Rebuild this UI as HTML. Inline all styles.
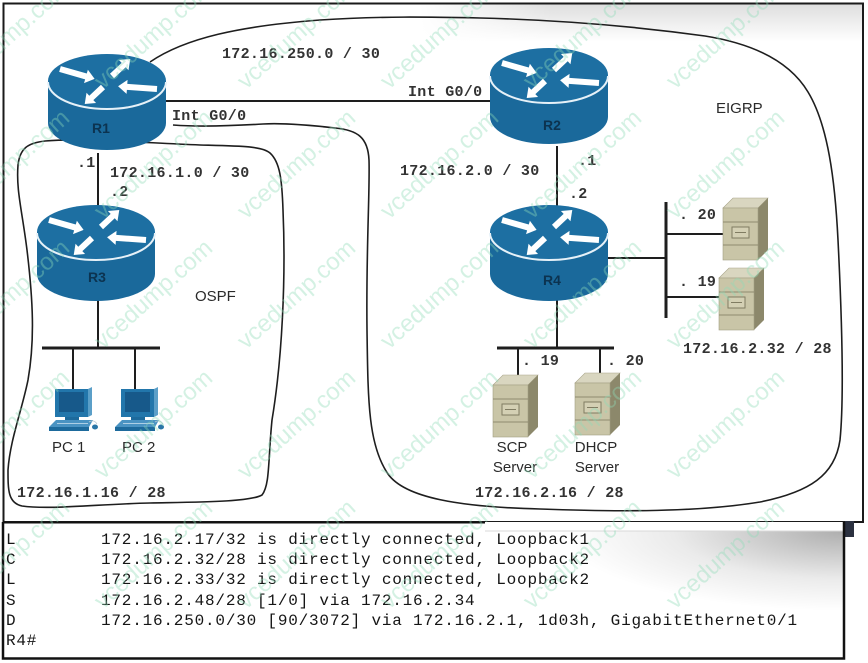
<!DOCTYPE html>
<html>
<head>
<meta charset="utf-8">
<style>
  html,body{margin:0;padding:0;background:#fff;}
  body{width:868px;height:663px;overflow:hidden;position:relative;}
  svg{position:absolute;left:0;top:0;}
  .m{font-family:"Liberation Mono","DejaVu Sans Mono",monospace;font-size:15px;font-weight:bold;fill:#333;letter-spacing:0.3px;}
  .s{font-family:"Liberation Sans","DejaVu Sans",sans-serif;font-size:15px;fill:#2a2a2a;}
  .r{font-family:"Liberation Sans","DejaVu Sans",sans-serif;font-size:14px;font-weight:bold;fill:#0c3350;}
  .c{font-family:"Liberation Mono","DejaVu Sans Mono",monospace;font-size:16px;fill:#151515;letter-spacing:0.8px;}
  .w{font-family:"Liberation Sans","DejaVu Sans",sans-serif;font-size:24px;fill:#8fdcb8;opacity:0.38;}
</style>
</head>
<body>
<svg width="868" height="663" viewBox="0 0 868 663" xmlns="http://www.w3.org/2000/svg">
  <defs>
    <linearGradient id="topsh" x1="0" y1="0" x2="0" y2="1">
      <stop offset="0" stop-color="#000" stop-opacity="0.13"/>
      <stop offset="1" stop-color="#000" stop-opacity="0"/>
    </linearGradient>
    <linearGradient id="topshx" x1="0" y1="0" x2="1" y2="0">
      <stop offset="0" stop-color="#fff" stop-opacity="1"/>
      <stop offset="0.3" stop-color="#fff" stop-opacity="0"/>
      <stop offset="1" stop-color="#fff" stop-opacity="0"/>
    </linearGradient>
    <radialGradient id="consh" cx="1" cy="0" r="1">
      <stop offset="0" stop-color="#000" stop-opacity="0.32"/>
      <stop offset="0.6" stop-color="#000" stop-opacity="0.08"/>
      <stop offset="1" stop-color="#000" stop-opacity="0"/>
    </radialGradient>

    <g id="router">
      <path d="M-59 0 L-59 42 A59 27 0 0 0 59 42 L59 0 Z" fill="#1a699b"/>
      <ellipse cx="0" cy="0" rx="59" ry="27" fill="#1d6fa2"/>
      <path d="M-59 1 A59 27 0 0 0 59 1" fill="none" stroke="#e6f1f8" stroke-width="2"/>
      <g fill="#ffffff">
        <path transform="translate(-47,-12) rotate(16)" d="M0,-3 L27,-3 L27,-7 L36,0 L27,7 L27,3 L0,3Z"/>
        <path transform="translate(5,-5) rotate(-43)" d="M0,-3 L16,-3 L16,-7 L25,0 L16,7 L16,3 L0,3Z"/>
        <path transform="translate(50,8) rotate(184)" d="M0,-3 L30,-3 L30,-7 L39,0 L30,7 L30,3 L0,3Z"/>
        <path transform="translate(-4,6) rotate(137)" d="M0,-3 L16,-3 L16,-7 L25,0 L16,7 L16,3 L0,3Z"/>
      </g>
    </g>

    <g id="server">
      <polygon points="0,0 10,-10 45,-10 35,0" fill="#d9d6c0" stroke="#a9a58a" stroke-width="0.6"/>
      <polygon points="35,0 45,-10 45,42 35,52" fill="#8c886b"/>
      <rect x="0" y="0" width="35" height="52" fill="#c9c5a7" stroke="#a29e82" stroke-width="0.6"/>
      <line x1="0" y1="14" x2="35" y2="14" stroke="#8e8a6f" stroke-width="1"/>
      <line x1="0" y1="37" x2="35" y2="37" stroke="#8e8a6f" stroke-width="1"/>
      <rect x="9" y="19" width="17" height="11" fill="#d4d0b4" stroke="#807c62" stroke-width="1"/>
      <line x1="12" y1="24.5" x2="23" y2="24.5" stroke="#807c62" stroke-width="1"/>
    </g>

    <g id="pc">
      <polygon points="33,0 37,-2 37,26 33,28" fill="#5b9fc8"/>
      <rect x="0" y="0" width="33" height="28" fill="#2276ab"/>
      <rect x="4" y="3" width="25" height="20" fill="#17598a"/>
      <rect x="10" y="28" width="14" height="3" fill="#1d6a9c"/>
      <polygon points="-6,38 1,31 38,31 34,38" fill="#4a93c2"/>
      <line x1="2" y1="34.5" x2="33" y2="34.5" stroke="#cfe3f0" stroke-width="0.8"/>
      <rect x="-6" y="38" width="40" height="4" fill="#1d6a9c"/>
      <ellipse cx="40" cy="38" rx="3" ry="2.5" fill="#2a76a8"/>
      <path d="M34 33 Q39 30 42 35" fill="none" stroke="#b8c8d2" stroke-width="0.8"/>
    </g>
  </defs>

  <rect x="0" y="0" width="868" height="663" fill="#ffffff"/>

  <!-- top shadow -->
  <rect x="420" y="4" width="442" height="38" fill="url(#topsh)"/>
  <rect x="420" y="4" width="442" height="38" fill="url(#topshx)"/>

  <!-- frame -->
  <rect x="3.5" y="3.5" width="859.5" height="518.5" fill="none" stroke="#1a1a1a" stroke-width="2"/>

  <!-- area outlines -->
  <path d="M 18 165 C 20 148, 28 143, 45 141 C 80 138, 130 142, 200 145 C 240 146, 262 146, 270 153 C 280 162, 282 180, 283 210 C 286 280, 282 360, 272 420 C 268 460, 270 485, 262 495 C 250 502, 200 502, 150 503 C 100 504, 50 510, 22 506 C 8 503, 8 490, 8 470 C 10 440, 22 410, 28 380 C 35 340, 33 300, 27 250 C 22 210, 16 190, 18 165 Z" fill="none" stroke="#1e1e1e" stroke-width="1.6"/>
  <path d="M 150 62 C 185 38, 240 26, 320 20 C 380 16, 430 17, 480 18 C 560 20, 640 27, 705 36 C 755 44, 790 62, 808 92 C 828 125, 835 180, 838 240 C 842 320, 844 400, 840 440 C 835 475, 810 492, 760 502 C 700 512, 620 512, 540 509 C 460 507, 405 498, 388 474 C 368 445, 368 400, 367 330 C 366 250, 370 190, 369 160 C 368 138, 358 130, 335 128 C 300 124, 280 123, 263 124 C 230 126, 200 127, 173 125" fill="none" stroke="#1e1e1e" stroke-width="1.6"/>

  <!-- links -->
  <g stroke="#1e1e1e" stroke-width="2" fill="none">
    <line x1="165" y1="101" x2="492" y2="101"/>
    <line x1="98" y1="153" x2="98" y2="206"/>
    <line x1="98" y1="298" x2="98" y2="348"/>
    <line x1="73" y1="348" x2="73" y2="390"/>
    <line x1="135" y1="348" x2="135" y2="390"/>
    <line x1="557" y1="146" x2="557" y2="206"/>
    <line x1="606" y1="258" x2="666" y2="258"/>
    <line x1="666" y1="234" x2="724" y2="234"/>
    <line x1="666" y1="297" x2="720" y2="297"/>
    <line x1="557" y1="300" x2="557" y2="348"/>
    <line x1="518" y1="348" x2="518" y2="378"/>
    <line x1="600" y1="348" x2="600" y2="378"/>
  </g>
  <g stroke="#1e1e1e" stroke-width="3" fill="none">
    <line x1="42" y1="348" x2="160" y2="348"/>
    <line x1="666" y1="202" x2="666" y2="318"/>
    <line x1="497" y1="348" x2="614" y2="348"/>
  </g>

  <!-- routers -->
  <use href="#router" transform="translate(107,81)"/>
  <use href="#router" transform="translate(96,232)"/>
  <use href="#router" transform="translate(549,75)"/>
  <use href="#router" transform="translate(549,232)"/>
  <text class="r" x="101" y="133" text-anchor="middle">R1</text>
  <text class="r" x="97" y="282" text-anchor="middle">R3</text>
  <text class="r" x="552" y="130" text-anchor="middle">R2</text>
  <text class="r" x="552" y="285" text-anchor="middle">R4</text>

  <!-- servers -->
  <use href="#server" transform="translate(723,208)"/>
  <use href="#server" transform="translate(719,278)"/>
  <use href="#server" transform="translate(493,385)"/>
  <use href="#server" transform="translate(575,383)"/>

  <!-- PCs -->
  <use href="#pc" transform="translate(55,389)"/>
  <use href="#pc" transform="translate(121,389)"/>

  <!-- mono labels -->
  <text class="m" x="222" y="58">172.16.250.0 / 30</text>
  <text class="m" x="408" y="96">Int G0/0</text>
  <text class="m" x="172" y="120">Int G0/0</text>
  <text class="m" x="77" y="167">.1</text>
  <text class="m" x="110" y="177">172.16.1.0 / 30</text>
  <text class="m" x="110" y="196">.2</text>
  <text class="m" x="400" y="175">172.16.2.0 / 30</text>
  <text class="m" x="578" y="165">.1</text>
  <text class="m" x="569" y="198">.2</text>
  <text class="m" x="679" y="219">. 20</text>
  <text class="m" x="679" y="286">. 19</text>
  <text class="m" x="683" y="353">172.16.2.32 / 28</text>
  <text class="m" x="522" y="365">. 19</text>
  <text class="m" x="607" y="365">. 20</text>
  <text class="m" x="475" y="497">172.16.2.16 / 28</text>
  <text class="m" x="17" y="497">172.16.1.16 / 28</text>

  <!-- sans labels -->
  <text class="s" x="195" y="301">OSPF</text>
  <text class="s" x="716" y="113">EIGRP</text>
  <text class="s" x="52" y="452">PC 1</text>
  <text class="s" x="122" y="452">PC 2</text>
  <text class="s" x="512" y="452" text-anchor="middle">SCP</text>
  <text class="s" x="515" y="472" text-anchor="middle">Server</text>
  <text class="s" x="596" y="452" text-anchor="middle">DHCP</text>
  <text class="s" x="597" y="472" text-anchor="middle">Server</text>

  <!-- console -->
  <rect x="560" y="531" width="284" height="80" fill="url(#consh)"/>
  <rect x="485" y="522" width="361" height="9" fill="#ffffff"/>
  <line x1="485" y1="531" x2="845" y2="531" stroke="#d8d8d8" stroke-width="1"/>
  <rect x="845" y="521" width="9" height="16" fill="#2b3140"/>
  <path d="M3 522 L3 658.5 L844 658.5 L844 522" fill="none" stroke="#111" stroke-width="2.5"/>
  <line x1="3" y1="522.5" x2="485" y2="522.5" stroke="#111" stroke-width="2"/>

  <text class="c" x="6" y="544">L</text>
  <text class="c" x="101" y="544">172.16.2.17/32 is directly connected, Loopback1</text>
  <text class="c" x="6" y="564">C</text>
  <text class="c" x="101" y="564">172.16.2.32/28 is directly connected, Loopback2</text>
  <text class="c" x="6" y="584">L</text>
  <text class="c" x="101" y="584">172.16.2.33/32 is directly connected, Loopback2</text>
  <text class="c" x="6" y="605">S</text>
  <text class="c" x="101" y="605">172.16.2.48/28 [1/0] via 172.16.2.34</text>
  <text class="c" x="6" y="625">D</text>
  <text class="c" x="101" y="625">172.16.250.0/30 [90/3072] via 172.16.2.1, 1d03h, GigabitEthernet0/1</text>
  <text class="c" x="6" y="645">R4#</text>

  <!-- watermark -->
  <g>
    <text class="w" transform="translate(-40,90) rotate(-42)">vcedump.com</text>
    <text class="w" transform="translate(103,90) rotate(-42)">vcedump.com</text>
    <text class="w" transform="translate(246,90) rotate(-42)">vcedump.com</text>
    <text class="w" transform="translate(389,90) rotate(-42)">vcedump.com</text>
    <text class="w" transform="translate(532,90) rotate(-42)">vcedump.com</text>
    <text class="w" transform="translate(675,90) rotate(-42)">vcedump.com</text>

    <text class="w" transform="translate(-40,220) rotate(-42)">vcedump.com</text>
    <text class="w" transform="translate(103,220) rotate(-42)">vcedump.com</text>
    <text class="w" transform="translate(246,220) rotate(-42)">vcedump.com</text>
    <text class="w" transform="translate(389,220) rotate(-42)">vcedump.com</text>
    <text class="w" transform="translate(532,220) rotate(-42)">vcedump.com</text>
    <text class="w" transform="translate(675,220) rotate(-42)">vcedump.com</text>

    <text class="w" transform="translate(-40,350) rotate(-42)">vcedump.com</text>
    <text class="w" transform="translate(103,350) rotate(-42)">vcedump.com</text>
    <text class="w" transform="translate(246,350) rotate(-42)">vcedump.com</text>
    <text class="w" transform="translate(389,350) rotate(-42)">vcedump.com</text>
    <text class="w" transform="translate(532,350) rotate(-42)">vcedump.com</text>
    <text class="w" transform="translate(675,350) rotate(-42)">vcedump.com</text>

    <text class="w" transform="translate(-40,480) rotate(-42)">vcedump.com</text>
    <text class="w" transform="translate(103,480) rotate(-42)">vcedump.com</text>
    <text class="w" transform="translate(246,480) rotate(-42)">vcedump.com</text>
    <text class="w" transform="translate(389,480) rotate(-42)">vcedump.com</text>
    <text class="w" transform="translate(532,480) rotate(-42)">vcedump.com</text>
    <text class="w" transform="translate(675,480) rotate(-42)">vcedump.com</text>

    <text class="w" transform="translate(-40,610) rotate(-42)">vcedump.com</text>
    <text class="w" transform="translate(103,610) rotate(-42)">vcedump.com</text>
    <text class="w" transform="translate(246,610) rotate(-42)">vcedump.com</text>
    <text class="w" transform="translate(389,610) rotate(-42)">vcedump.com</text>
    <text class="w" transform="translate(532,610) rotate(-42)">vcedump.com</text>
    <text class="w" transform="translate(675,610) rotate(-42)">vcedump.com</text>
  </g>
</svg>
</body>
</html>
